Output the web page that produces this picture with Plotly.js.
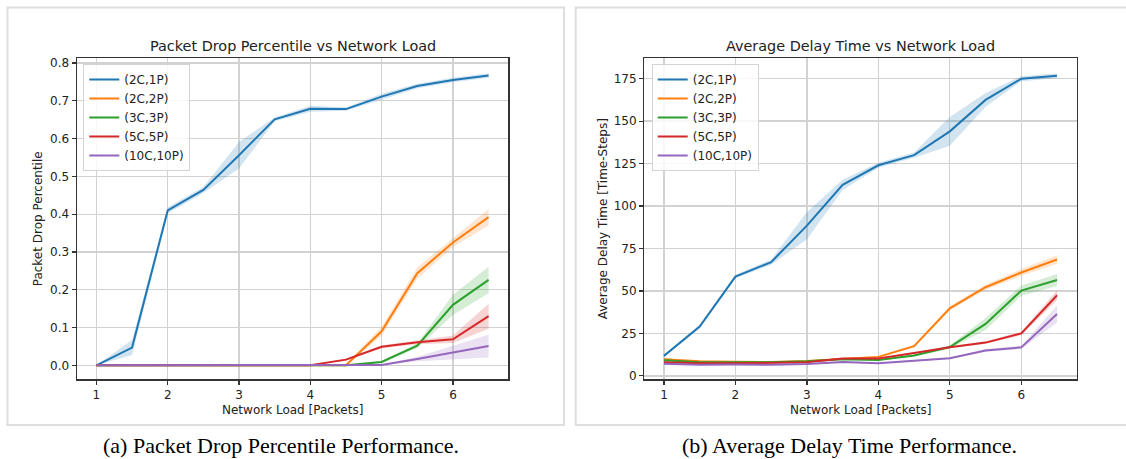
<!DOCTYPE html>
<html>
<head>
<meta charset="utf-8">
<script src="https://cdn.plot.ly/plotly-3.0.1.min.js"></script>
<style>
  html, body { margin: 0; padding: 0; background: #ffffff; }
  #chart { width: 1126px; height: 459px; }
</style>
</head>
<body>
<div id="chart"></div>
<script>
// Network load levels (packets)
const load = [1, 1.5, 2, 2.5, 3, 3.5, 4, 4.5, 5, 5.5, 6, 6.5];
const seriesNames = ['(2C,1P)', '(2C,2P)', '(3C,3P)', '(5C,5P)', '(10C,10P)'];
const seriesColors = ['#1f77b4', '#ff7f0e', '#2ca02c', '#d62728', '#9467bd'];

// Packet drop percentile: mean per load, and half-width of the shaded band
const drop2C1P  = [0, 0.047, 0.41, 0.464, 0.556, 0.651, 0.679, 0.678, 0.711, 0.739, 0.755, 0.767];
const drop2C1PBand  = [0, 0.02, 0.008, 0.008, 0.035, 0.005, 0.008, 0.004, 0.008, 0.006, 0.006, 0.006];
const drop2C2P  = [0, 0, 0, 0, 0, 0, 0, 0, 0.09, 0.244, 0.325, 0.392];
const drop2C2PBand  = [0, 0, 0, 0, 0, 0, 0, 0.002, 0.012, 0.015, 0.012, 0.022];
const drop3C3P  = [0, 0, 0, 0, 0, 0, 0, 0, 0.009, 0.052, 0.16, 0.226];
const drop3C3PBand  = [0, 0, 0, 0, 0, 0, 0, 0, 0.003, 0.006, 0.027, 0.035];
const drop5C5P  = [0, 0, 0, 0, 0, 0, 0, 0.015, 0.049, 0.061, 0.069, 0.13];
const drop5C5PBand  = [0, 0, 0, 0, 0, 0, 0, 0.003, 0.004, 0.005, 0.01, 0.033];
const drop10C10P = [0, 0, 0, 0, 0, 0, 0, 0, 0.001, 0.017, 0.034, 0.051];
const drop10C10PBand = [0, 0, 0, 0, 0, 0, 0, 0, 0.001, 0.006, 0.018, 0.03];

// Average delay time (time-steps): mean per load, and half-width of the shaded band
const delay2C1P  = [11.8, 29.1, 58.5, 67.0, 88.5, 112.5, 124.0, 130.0, 144.0, 162.5, 175.0, 176.7];
const delay2C1PBand  = [0.5, 1, 1, 1.5, 8, 3, 1.5, 1.5, 8.5, 4, 1.5, 1.5];
const delay2C2P  = [9.8, 8.6, 8.4, 8.2, 8.8, 10.2, 11.2, 17.5, 39.8, 52.2, 60.9, 68.5];
const delay2C2PBand  = [0.5, 0.3, 0.3, 0.3, 0.3, 0.5, 0.5, 0.8, 1.2, 1.5, 2, 2.5];
const delay3C3P  = [9.2, 8.0, 8.0, 8.0, 8.6, 9.8, 9.3, 12.0, 17.0, 30.6, 50.2, 56.5];
const delay3C3PBand  = [0.5, 0.3, 0.3, 0.3, 0.3, 0.4, 0.4, 0.6, 1, 3.5, 3, 3.5];
const delay5C5P  = [8.0, 7.4, 7.4, 7.5, 8.0, 10.2, 10.2, 13.5, 16.9, 19.6, 25.0, 47.5];
const delay5C5PBand  = [0.3, 0.3, 0.3, 0.3, 0.3, 0.4, 0.4, 0.5, 0.5, 0.8, 1, 3];
const delay10C10P = [7.1, 6.6, 6.7, 6.5, 7.0, 8.2, 7.5, 9.0, 10.4, 15.0, 16.8, 36.5];
const delay10C10PBand = [0.3, 0.3, 0.3, 0.3, 0.3, 0.4, 0.4, 0.5, 0.5, 0.8, 1, 5];

const dropMeans  = [drop2C1P, drop2C2P, drop3C3P, drop5C5P, drop10C10P];
const dropBands  = [drop2C1PBand, drop2C2PBand, drop3C3PBand, drop5C5PBand, drop10C10PBand];
const delayMeans = [delay2C1P, delay2C2P, delay3C3P, delay5C5P, delay10C10P];
const delayBands = [delay2C1PBand, delay2C2PBand, delay3C3PBand, delay5C5PBand, delay10C10PBand];

const W = 1126, H = 459;
const px = v => v / W;          // pixel -> paper x
const py = v => 1 - v / H;      // pixel -> paper y

function hexToRgba(hex, a) {
  const n = parseInt(hex.slice(1), 16);
  return `rgba(${(n >> 16) & 255},${(n >> 8) & 255},${n & 255},${a})`;
}

// Each series: lower edge, upper edge filled down to it, then the mean line
function addSeries(traces, means, bands, xa, ya, legendId) {
  means.forEach((m, i) => {
    const lo = m.map((v, k) => v - bands[i][k]);
    const hi = m.map((v, k) => v + bands[i][k]);
    const col = seriesColors[i];
    traces.push({ x: load, y: lo, xaxis: xa, yaxis: ya, mode: 'lines',
      line: { width: 0, color: col }, showlegend: false, hoverinfo: 'skip' });
    traces.push({ x: load, y: hi, xaxis: xa, yaxis: ya, mode: 'lines', fill: 'tonexty',
      fillcolor: hexToRgba(col, 0.2), line: { width: 0, color: col },
      showlegend: false, hoverinfo: 'skip' });
    traces.push({ x: load, y: m, xaxis: xa, yaxis: ya, mode: 'lines', name: seriesNames[i],
      line: { width: 2, color: col }, legend: legendId });
  });
}

const traces = [];
addSeries(traces, dropMeans, dropBands, 'x', 'y', 'legend');
addSeries(traces, delayMeans, delayBands, 'x2', 'y2', 'legend2');

const tickFont = { family: 'DejaVu Sans', size: 12, color: '#222' };
const axisCommon = {
  showline: true, mirror: true, linecolor: '#333', linewidth: 1.3,
  ticks: 'outside', ticklen: 4, tickwidth: 1.2, tickcolor: '#333',
  showgrid: true, gridcolor: '#d2d2d2', gridwidth: 1.3, zeroline: false,
  tickfont: tickFont, fixedrange: true
};

const plotTop = 58.3, plotBottom = 379.3;
const leftX0 = 76.8, leftX1 = 508.2, rightX0 = 644.3, rightX1 = 1076.7;

const legendCommon = {
  xanchor: 'left', yanchor: 'top', traceorder: 'normal',
  bgcolor: 'rgba(255,255,255,0.85)', bordercolor: '#d4d4d4', borderwidth: 1,
  font: { family: 'DejaVu Sans', size: 12, color: '#222' }
};

const titleFont = { family: 'DejaVu Sans', size: 14.4, color: '#222' };
const labelFont = { family: 'DejaVu Sans', size: 12, color: '#222' };
const captionFont = { family: 'Liberation Serif', size: 22, color: '#000' };

const annotations = [
  { text: 'Packet Drop Percentile vs Network Load', x: px((leftX0 + leftX1) / 2), y: py(46), font: titleFont },
  { text: 'Average Delay Time vs Network Load', x: px((rightX0 + rightX1) / 2), y: py(46), font: titleFont },
  { text: 'Network Load [Packets]', x: px((leftX0 + leftX1) / 2), y: py(410), font: labelFont },
  { text: 'Network Load [Packets]', x: px((rightX0 + rightX1) / 2), y: py(410), font: labelFont },
  { text: 'Packet Drop Percentile', x: px(37.5), y: py((plotTop + plotBottom) / 2), textangle: -90, font: labelFont },
  { text: 'Average Delay Time [Time-Steps]', x: px(602.5), y: py((plotTop + plotBottom) / 2), textangle: -90, font: labelFont },
  { text: '(a) Packet Drop Percentile Performance.', x: px(281), y: py(445), font: captionFont },
  { text: '(b) Average Delay Time Performance.', x: px(849), y: py(445), font: captionFont }
].map(a => Object.assign({ xref: 'paper', yref: 'paper', xanchor: 'center', yanchor: 'middle', showarrow: false }, a));

const frameLine = { color: '#dedede', width: 2 };
const shapes = [
  { type: 'rect', xref: 'paper', yref: 'paper', x0: px(7.5), x1: px(564), y0: py(425), y1: py(7.5), line: frameLine },
  { type: 'rect', xref: 'paper', yref: 'paper', x0: px(575.7), x1: px(1140), y0: py(425), y1: py(7.5), line: frameLine }
];

const layout = {
  width: W, height: H,
  margin: { l: 0, r: 0, t: 0, b: 0 },
  paper_bgcolor: '#ffffff', plot_bgcolor: '#ffffff',
  xaxis: Object.assign({}, axisCommon, { domain: [px(leftX0), px(leftX1)], anchor: 'y',
    range: [0.725, 6.775], tickvals: [1, 2, 3, 4, 5, 6] }),
  yaxis: Object.assign({}, axisCommon, { domain: [py(plotBottom), py(plotTop)], anchor: 'x',
    range: [-0.037, 0.8125], dtick: 0.1, tick0: 0, tickformat: '.1f' }),
  xaxis2: Object.assign({}, axisCommon, { domain: [px(rightX0), px(rightX1)], anchor: 'y2',
    range: [0.725, 6.775], tickvals: [1, 2, 3, 4, 5, 6] }),
  yaxis2: Object.assign({}, axisCommon, { domain: [py(plotBottom), py(plotTop)], anchor: 'x2',
    range: [-2, 187], dtick: 25, tick0: 0 }),
  legend: Object.assign({}, legendCommon, { x: px(83.3), y: py(64) }),
  legend2: Object.assign({}, legendCommon, { x: px(651.7), y: py(64) }),
  annotations: annotations,
  shapes: shapes,
  showlegend: true
};

Plotly.newPlot('chart', traces, layout, { displayModeBar: false, staticPlot: true });
</script>
</body>
</html>
